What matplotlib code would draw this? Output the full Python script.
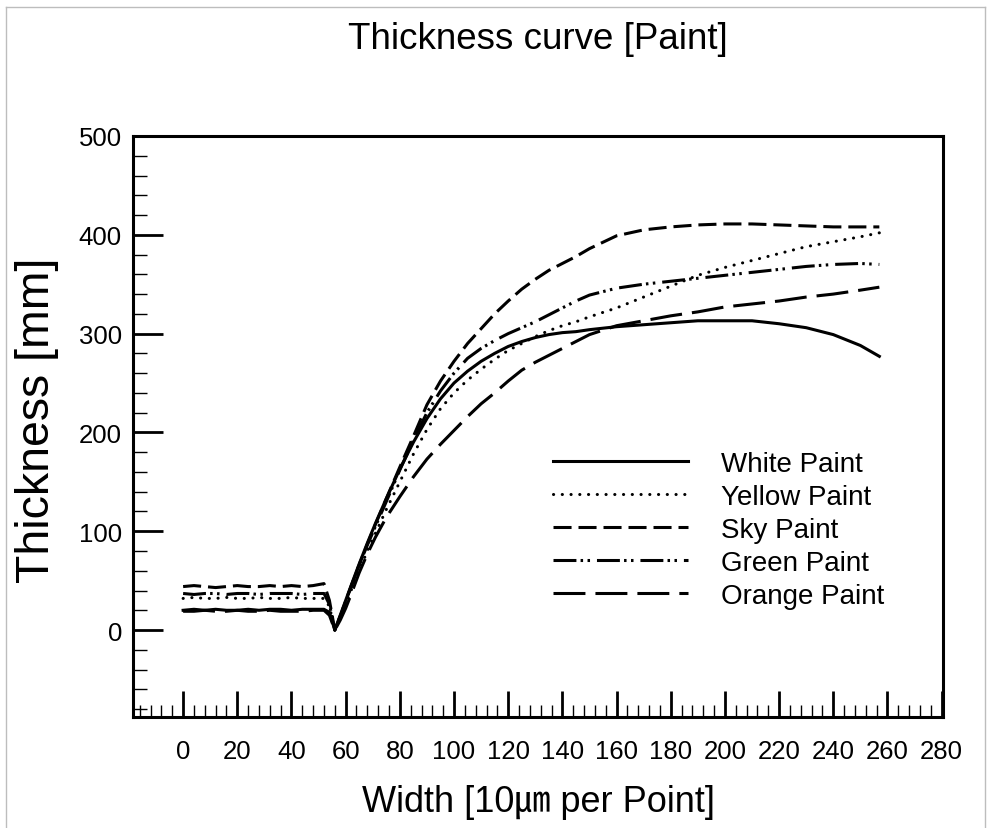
import matplotlib
matplotlib.use("Agg")
import matplotlib.pyplot as plt
from matplotlib.ticker import MultipleLocator
from matplotlib.lines import Line2D

plt.rcParams['font.family'] = ['Liberation Sans', 'Noto Sans CJK KR', 'DejaVu Sans']
plt.rcParams['lines.scale_dashes'] = False

# Measurement positions (points along the width)
width_pts = [0, 4, 8, 12, 16, 20, 24, 28, 32, 36, 40, 44, 48, 52, 54, 56, 58, 60, 62,
             65, 68, 71, 75, 80, 85, 90, 95, 100, 105, 110, 115, 120, 125, 130, 135,
             140, 145, 150, 160, 170, 180, 190, 200, 210, 220, 230, 240, 250, 257]

white_paint = [20, 21, 20, 21, 20, 20, 21, 20, 21, 21, 20, 21, 21, 21, 18, 0, 15, 30, 45,
               67, 88, 108, 133, 163, 190, 214, 234, 250, 262, 272, 280, 287, 292, 296, 299,
               301, 302, 304, 307, 309, 311, 313, 313, 313, 310, 306, 299, 288, 277]

yellow_paint = [32, 33, 32, 32, 33, 32, 32, 33, 32, 32, 33, 32, 32, 32, 24, 0, 12, 26, 40,
                60, 80, 98, 122, 150, 178, 203, 224, 240, 253, 264, 274, 283, 290, 297, 303,
                308, 312, 317, 326, 337, 348, 359, 367, 374, 381, 388, 393, 398, 402]

sky_paint = [44, 45, 44, 43, 44, 45, 44, 44, 45, 44, 45, 44, 45, 47, 30, 0, 14, 29, 44,
             66, 87, 107, 133, 165, 196, 228, 252, 272, 290, 305, 320, 333, 345, 355, 364,
             371, 378, 386, 399, 405, 408, 410, 411, 411, 410, 409, 408, 408, 408]

green_paint = [37, 36, 37, 37, 36, 37, 37, 36, 37, 37, 37, 36, 37, 37, 26, 0, 14, 29, 44,
               66, 86, 105, 130, 162, 192, 220, 242, 260, 275, 285, 293, 300, 306, 312, 319,
               326, 333, 339, 346, 350, 353, 356, 359, 362, 365, 368, 370, 371, 370]

orange_paint = [19, 19, 20, 19, 19, 20, 19, 19, 20, 19, 19, 19, 20, 20, 15, 0, 10, 22, 36,
                58, 77, 94, 114, 135, 155, 173, 188, 202, 216, 229, 240, 252, 263, 271, 278,
                285, 292, 299, 308, 313, 318, 322, 327, 330, 333, 337, 340, 344, 347]

series_names = ["White Paint", "Yellow Paint", "Sky Paint", "Green Paint", "Orange Paint"]
x_ticks = list(range(0, 281, 20))
y_ticks = list(range(0, 501, 100))

styles = [
    dict(linestyle='-'),
    dict(dashes=(0.1, 6.2), dash_capstyle='round'),
    dict(dashes=(13, 5)),
    dict(dashes=(16.5, 3.0, 1.8, 3.2, 1.8, 5.0)),
    dict(dashes=(23, 7.2)),
]

fig = plt.figure(figsize=(9.9, 8.29), dpi=100)
ax = fig.add_axes([133 / 990, 1 - 718 / 829, 810 / 990, 581 / 829])

for ys, name, st in zip([white_paint, yellow_paint, sky_paint, green_paint, orange_paint],
                        series_names, styles):
    ax.plot(width_pts, ys, color='black', lw=2.2, label=name, zorder=3, **st)

ax.set_xlim(-18.5, 280.5)
ax.set_ylim(-88, 500)
ax.set_xticks(x_ticks)
ax.set_yticks(y_ticks)
ax.xaxis.set_minor_locator(MultipleLocator(4))
ax.yaxis.set_minor_locator(MultipleLocator(20))

ax.tick_params(axis='x', which='major', direction='in', length=19, width=2.0,
               labelsize=18.5, pad=16)
ax.tick_params(axis='x', which='minor', direction='in', length=8.6, width=1.0)
ax.tick_params(axis='y', which='major', direction='in', length=21.5, width=2.0,
               labelsize=18.5, pad=8)
ax.tick_params(axis='y', which='minor', direction='in', length=10, width=1.0)

for sp in ax.spines.values():
    sp.set_linewidth(2.2)

ax.set_title("Thickness curve [Paint]", fontsize=26.5, pad=63)
ax.set_xlabel("Width [10㎛ per Point]", fontsize=26)
ax.xaxis.label.set_va('center')
ax.xaxis.set_label_coords(0.5, (718 - 802) / 581)
ax.set_ylabel("Thickness [mm]", fontsize=33.5)
ax.yaxis.label.set_va('center')
ax.yaxis.set_label_coords((37 - 133) / 810, 0.513)

ax.legend(loc='upper left', bbox_to_anchor=((553 - 133) / 810, (718 - 452) / 581),
          frameon=False, fontsize=20, handlelength=4.86, handletextpad=1.19,
          labelspacing=0.25, borderpad=0, borderaxespad=0)

# thin light frame around the figure
for xs, ys_ in [((6, 985), (8, 8)), ((6, 6), (8, 829)), ((985, 985), (8, 829))]:
    fig.add_artist(Line2D([x / 990 for x in xs], [1 - y / 829 for y in ys_],
                          color='#bdbdbd', lw=1.0, transform=fig.transFigure))

fig.savefig("out.png", dpi=100)
